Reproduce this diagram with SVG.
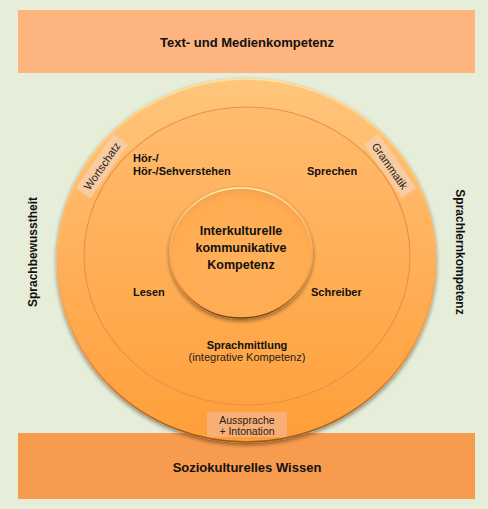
<svg xmlns="http://www.w3.org/2000/svg" width="488" height="509" viewBox="0 0 488 509">
<defs>
<style>
.b{font-family:"Liberation Sans",Arial,sans-serif;font-weight:bold;fill:#111;}
.n{font-family:"Liberation Sans",Arial,sans-serif;fill:#222;}
.tag{fill:#F7CDA6;opacity:0.9;}
</style>
<linearGradient id="gOuter" x1="0" y1="0" x2="0" y2="1">
<stop offset="0" stop-color="#FFC67C"/>
<stop offset="0.5" stop-color="#FFB05A"/>
<stop offset="1" stop-color="#FF9E38"/>
</linearGradient>
<linearGradient id="gInner" x1="0" y1="0" x2="0" y2="1">
<stop offset="0" stop-color="#FFBC6E"/>
<stop offset="1" stop-color="#FFA240"/>
</linearGradient>
<radialGradient id="gCenter" cx="0.5" cy="0.55" r="0.55">
<stop offset="0" stop-color="#FFB058"/>
<stop offset="0.85" stop-color="#FFAC52"/>
<stop offset="1" stop-color="#F4A050"/>
</radialGradient>
<linearGradient id="gRim" x1="0" y1="0" x2="0" y2="1">
<stop offset="0" stop-color="#FFF0B0"/>
<stop offset="0.45" stop-color="#FFC070" stop-opacity="0.3"/>
<stop offset="0.7" stop-color="#C07030" stop-opacity="0.4"/>
<stop offset="1" stop-color="#6A3A10"/>
</linearGradient>
<filter id="sh" x="-10%" y="-10%" width="120%" height="125%">
<feGaussianBlur in="SourceAlpha" stdDeviation="2"/>
<feOffset dy="2" result="o"/>
<feComponentTransfer><feFuncA type="linear" slope="0.45"/></feComponentTransfer>
<feMerge><feMergeNode/><feMergeNode in="SourceGraphic"/></feMerge>
</filter>
<clipPath id="clipS"><rect x="300" y="280" width="61.5" height="25"/></clipPath>
</defs>
<rect width="488" height="509" fill="#E6EED9"/>
<g id="band-top">
<rect x="18" y="10" width="457" height="63" fill="#FDB47E"/>
<text class="b" x="247" y="47" font-size="13" text-anchor="middle">Text- und Medienkompetenz</text>
</g>
<g id="band-bottom">
<rect x="18" y="433" width="457" height="66" fill="#F79B4E"/>
<text class="b" x="247" y="472" font-size="13" text-anchor="middle">Soziokulturelles Wissen</text>
</g>
<g id="side-left">
<text class="b" transform="translate(37,252) rotate(-90)" font-size="12" text-anchor="middle">Sprachbewusstheit</text>
</g>
<g id="side-right">
<text class="b" transform="translate(456,252) rotate(90)" font-size="12" text-anchor="middle">Sprachlernkompetenz</text>
</g>
<g id="outer-circle">
<ellipse cx="246.5" cy="260.5" rx="190" ry="182.5" fill="url(#gOuter)" filter="url(#sh)"/>
<ellipse cx="246.5" cy="260.5" rx="189" ry="181.5" fill="none" stroke="url(#gRim)" stroke-width="1.5" opacity="0.7"/>
</g>
<g id="inner-ring">
<ellipse cx="247" cy="256" rx="163" ry="149" fill="url(#gInner)" stroke="#E8924A" stroke-width="1.2"/>
</g>
<g id="center-circle">
<ellipse cx="241" cy="253" rx="72" ry="66" fill="url(#gCenter)" filter="url(#sh)"/>
<ellipse cx="241" cy="253" rx="71" ry="65" fill="none" stroke="url(#gRim)" stroke-width="1.5"/>
<text class="b" x="241" y="235" font-size="12.5" text-anchor="middle">Interkulturelle</text>
<text class="b" x="241" y="252" font-size="12.5" text-anchor="middle">kommunikative</text>
<text class="b" x="241" y="269" font-size="12.5" text-anchor="middle">Kompetenz</text>
</g>
<g id="hoeren">
<text class="b" x="133" y="162" font-size="11">Hör-/</text>
<text class="b" x="133" y="175" font-size="11">Hör-/Sehverstehen</text>
</g>
<g id="sprechen">
<text class="b" x="307" y="175" font-size="11">Sprechen</text>
</g>
<g id="lesen">
<text class="b" x="133" y="296" font-size="11">Lesen</text>
</g>
<g id="schreiben">
<text class="b" x="311" y="296" font-size="11" clip-path="url(#clipS)">Schreiben</text>
</g>
<g id="sprachmittlung">
<text class="b" x="247" y="349" font-size="11" text-anchor="middle">Sprachmittlung</text>
<text class="n" x="247" y="361" font-size="11" text-anchor="middle">(integrative Kompetenz)</text>
</g>
<g id="wortschatz" transform="translate(102,166) rotate(-55)">
<rect class="tag" x="-33" y="-9" width="66" height="18"/>
<text class="n" x="0" y="4" font-size="11" text-anchor="middle">Wortschatz</text>
</g>
<g id="grammatik" transform="translate(390,166) rotate(55)">
<rect class="tag" x="-33" y="-9" width="66" height="18"/>
<text class="n" x="0" y="4" font-size="11" text-anchor="middle">Grammatik</text>
</g>
<g id="aussprache">
<rect x="207" y="412" width="80" height="25" fill="#F8B07A" opacity="0.95"/>
<text class="n" x="247" y="424" font-size="10.5" text-anchor="middle">Aussprache</text>
<text class="n" x="247" y="434.5" font-size="10.5" text-anchor="middle">+ Intonation</text>
</g>
<g id="connectors"/>
</svg>
